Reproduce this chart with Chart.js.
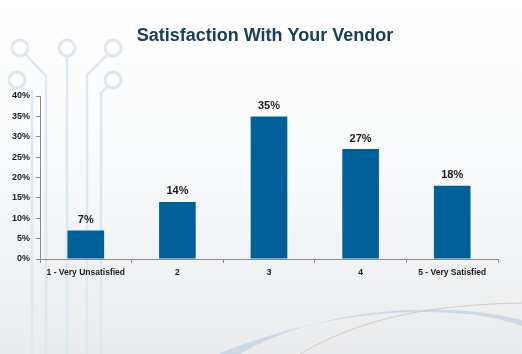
<!DOCTYPE html>
<html>
<head>
<meta charset="utf-8">
<script src="https://cdn.jsdelivr.net/npm/chart.js@4/dist/chart.umd.min.js"></script>
<style>
  html, body { margin: 0; padding: 0; }
  #wrap { width: 522px; height: 354px; position: relative; }
</style>
</head>
<body>
<div id="wrap"><canvas id="satChart"></canvas></div>
<script>
// Dữ liệu biểu đồ
const categories = ['1 - Very Unsatisfied', '2', '3', '4', '5 - Very Satisfied'];
const percentValues = [7, 14, 35, 27, 18];
const yTicks = [0, 5, 10, 15, 20, 25, 30, 35, 40];
const chartTitle = 'Satisfaction With Your Vendor';

const barColor = '#00609a';
const textColor = '#1b1b1b';
const fontFamily = '"Liberation Sans", Arial, sans-serif';

// Nền: gradient + hoa văn mạch điện trang trí + tiêu đề
const backgroundPlugin = {
    id: 'slideBackground',
    beforeDraw(chart) {
        const ctx = chart.ctx;
        const w = chart.width, h = chart.height;
        ctx.save();
        const g = ctx.createLinearGradient(0, 0, 0, h);
        g.addColorStop(0, '#ffffff');
        g.addColorStop(0.45, '#f9fafb');
        g.addColorStop(1, '#e9ebed');
        ctx.fillStyle = g;
        ctx.fillRect(0, 0, w, h);

        // hoa văn mạch
        ctx.strokeStyle = '#dde8f0';
        ctx.lineWidth = 3;
        const circles = [[20, 48], [67, 48], [113, 48], [17, 80], [113, 80]];
        circles.forEach(([cx, cy]) => {
            ctx.beginPath();
            ctx.arc(cx, cy, 8, 0, Math.PI * 2);
            ctx.stroke();
        });
        ctx.lineWidth = 2.5;
        ctx.beginPath();
        ctx.moveTo(26, 55); ctx.lineTo(46, 76); ctx.lineTo(46, h);
        ctx.moveTo(67, 56); ctx.lineTo(67, h);
        ctx.moveTo(107, 55); ctx.lineTo(87, 75); ctx.lineTo(87, h);
        ctx.moveTo(108, 86); ctx.lineTo(101, 93); ctx.lineTo(101, h);
        ctx.moveTo(32, 90); ctx.lineTo(32, h);
        ctx.stroke();

        // đường cong phía dưới
        ctx.fillStyle = 'rgba(172, 198, 222, 0.5)';
        ctx.beginPath();
        ctx.moveTo(218, h);
        ctx.bezierCurveTo(290, 325, 360, 312, 420, 312);
        ctx.bezierCurveTo(470, 312, 500, 318, 522, 326);
        ctx.lineTo(522, 320);
        ctx.bezierCurveTo(490, 312, 450, 308, 410, 310);
        ctx.bezierCurveTo(340, 313, 280, 330, 240, h);
        ctx.closePath();
        ctx.fill();
        ctx.strokeStyle = 'rgba(200, 192, 178, 0.7)';
        ctx.lineWidth = 1;
        ctx.beginPath();
        ctx.moveTo(300, h);
        ctx.bezierCurveTo(350, 325, 410, 305, 522, 303);
        ctx.stroke();

        // tiêu đề
        ctx.font = 'bold 18px ' + fontFamily;
        ctx.fillStyle = '#17405a';
        ctx.textAlign = 'center';
        ctx.textBaseline = 'middle';
        ctx.fillText(chartTitle, 265, 36);
        ctx.restore();
    }
};

// Nhãn giá trị trên cột
const valueLabelPlugin = {
    id: 'valueLabels',
    afterDatasetsDraw(chart) {
        const ctx = chart.ctx;
        const meta = chart.getDatasetMeta(0);
        ctx.save();
        ctx.font = 'bold 11px ' + fontFamily;
        ctx.fillStyle = textColor;
        ctx.textAlign = 'center';
        ctx.textBaseline = 'bottom';
        meta.data.forEach((bar, i) => {
            ctx.fillText(percentValues[i] + '%', bar.x, bar.y - 5);
        });
        ctx.restore();
    }
};

const ctx = document.getElementById('satChart').getContext('2d');
new Chart(ctx, {
    type: 'bar',
    data: {
        labels: categories,
        datasets: [{
            data: percentValues,
            backgroundColor: barColor,
            borderWidth: 0,
            categoryPercentage: 1,
            barPercentage: 0.4
        }]
    },
    options: {
        responsive: true,
        maintainAspectRatio: false,
        animation: false,
        layout: { padding: { left: 0, right: 24, top: 96, bottom: 0 } },
        plugins: {
            legend: { display: false },
            tooltip: { enabled: false },
            title: { display: false }
        },
        scales: {
            y: {
                min: 0,
                max: 40,
                afterBuildTicks(scale) {
                    scale.ticks = yTicks.map(v => ({ value: v }));
                },
                afterFit(scale) { scale.width = 40; },
                ticks: {
                    color: textColor,
                    font: { family: fontFamily, size: 9, weight: 'bold' },
                    padding: 6,
                    callback: v => v + '%'
                },
                grid: { drawOnChartArea: false, tickLength: 4, color: '#8c8c8c' },
                border: { color: '#8c8c8c' }
            },
            x: {
                afterFit(scale) { scale.height = 95; },
                ticks: {
                    color: textColor,
                    font: { family: fontFamily, size: 8.5, weight: 'bold' },
                    padding: 5,
                    maxRotation: 0,
                    autoSkip: false
                },
                grid: { drawOnChartArea: false, tickLength: 4, color: '#8c8c8c', offset: true },
                border: { color: '#8c8c8c' }
            }
        }
    },
    plugins: [backgroundPlugin, valueLabelPlugin]
});
</script>
</body>
</html>
